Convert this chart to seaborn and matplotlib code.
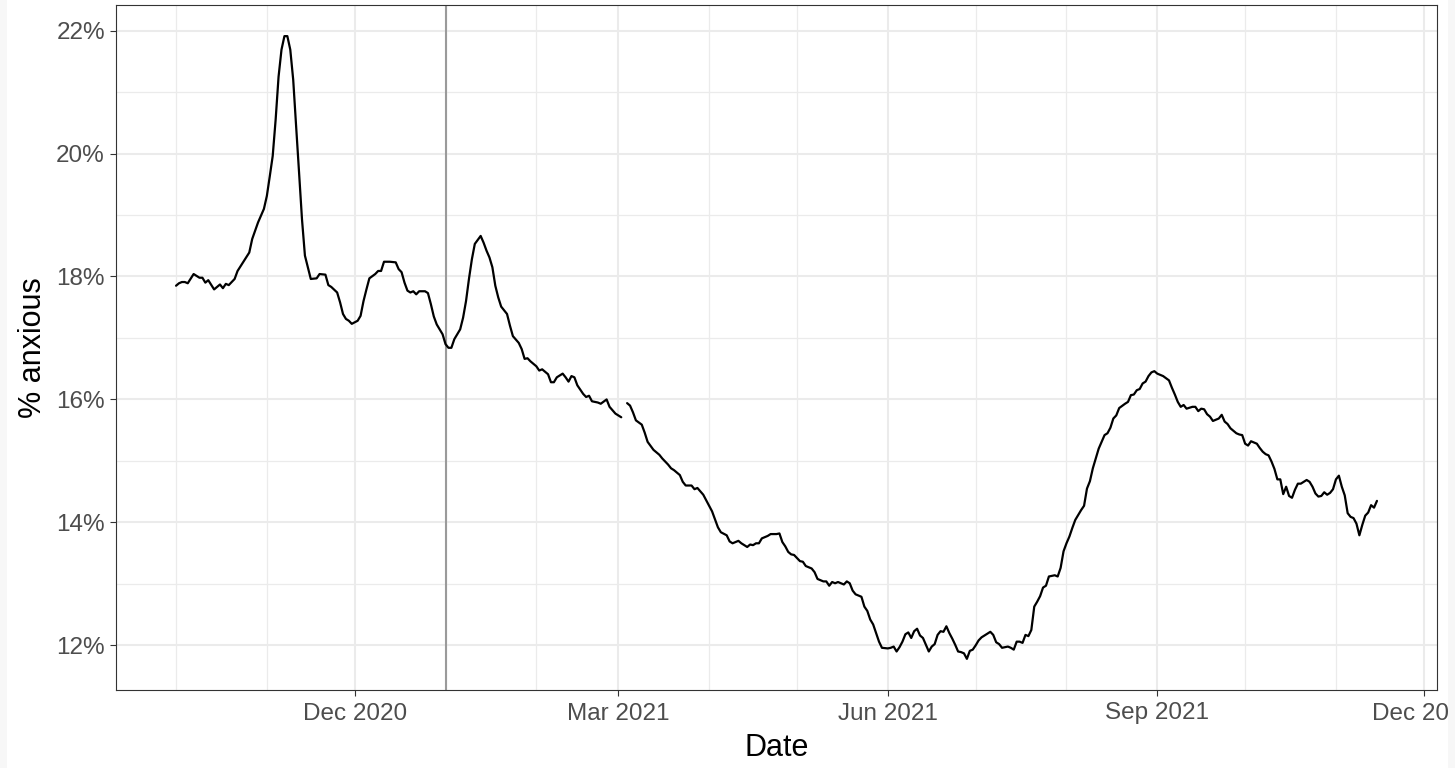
import pandas as pd
import matplotlib
matplotlib.use("Agg")
import matplotlib.pyplot as plt
import matplotlib.dates as mdates
from matplotlib.ticker import MultipleLocator
from matplotlib.patches import Rectangle
import seaborn as sns

# Share of respondents reporting anxiety (%).
# The series has one missing day at the start of March 2021, so it is split in two.
dates_before = [
    "2020-10-01", "2020-10-02", "2020-10-03", "2020-10-04", "2020-10-05", "2020-10-07",
    "2020-10-09", "2020-10-10", "2020-10-11", "2020-10-12", "2020-10-14", "2020-10-16",
    "2020-10-17", "2020-10-18", "2020-10-19", "2020-10-21", "2020-10-22", "2020-10-24",
    "2020-10-26", "2020-10-27", "2020-10-29", "2020-10-31", "2020-11-01", "2020-11-02",
    "2020-11-03", "2020-11-04", "2020-11-05", "2020-11-06", "2020-11-07", "2020-11-08",
    "2020-11-09", "2020-11-10", "2020-11-11", "2020-11-12", "2020-11-13", "2020-11-14",
    "2020-11-16", "2020-11-18", "2020-11-19", "2020-11-21", "2020-11-22", "2020-11-23",
    "2020-11-25", "2020-11-26", "2020-11-27", "2020-11-28", "2020-11-29", "2020-11-30",
    "2020-12-02", "2020-12-03", "2020-12-04", "2020-12-05", "2020-12-06", "2020-12-08",
    "2020-12-09", "2020-12-10", "2020-12-11", "2020-12-13", "2020-12-15", "2020-12-16",
    "2020-12-17", "2020-12-18", "2020-12-19", "2020-12-20", "2020-12-21", "2020-12-22",
    "2020-12-23", "2020-12-25", "2020-12-26", "2020-12-27", "2020-12-28", "2020-12-29",
    "2020-12-31", "2021-01-01", "2021-01-02", "2021-01-03", "2021-01-04", "2021-01-06",
    "2021-01-07", "2021-01-08", "2021-01-09", "2021-01-10", "2021-01-11", "2021-01-13",
    "2021-01-14", "2021-01-15", "2021-01-16", "2021-01-17", "2021-01-18", "2021-01-19",
    "2021-01-20", "2021-01-22", "2021-01-23", "2021-01-24", "2021-01-26", "2021-01-27",
    "2021-01-28", "2021-01-29", "2021-01-30", "2021-02-01", "2021-02-02", "2021-02-03",
    "2021-02-05", "2021-02-06", "2021-02-07", "2021-02-08", "2021-02-10", "2021-02-11",
    "2021-02-12", "2021-02-13", "2021-02-14", "2021-02-15", "2021-02-17", "2021-02-18",
    "2021-02-19", "2021-02-20", "2021-02-22", "2021-02-23", "2021-02-25", "2021-02-26",
    "2021-02-28", "2021-03-02",
]
anxious_before = [
    17.85, 17.89, 17.91, 17.91, 17.89, 18.04,
    17.98, 17.98, 17.90, 17.94, 17.79, 17.87,
    17.81, 17.88, 17.86, 17.96, 18.09, 18.24,
    18.39, 18.61, 18.88, 19.10, 19.31, 19.63,
    19.96, 20.55, 21.25, 21.69, 21.91, 21.91,
    21.69, 21.20, 20.44, 19.69, 18.93, 18.34,
    17.96, 17.97, 18.04, 18.03, 17.86, 17.83,
    17.74, 17.58, 17.39, 17.31, 17.28, 17.23,
    17.28, 17.36, 17.60, 17.79, 17.97, 18.04,
    18.09, 18.09, 18.24, 18.24, 18.23, 18.12,
    18.07, 17.90, 17.77, 17.74, 17.76, 17.71,
    17.76, 17.76, 17.73, 17.55, 17.35, 17.22,
    17.06, 16.90, 16.84, 16.84, 16.98, 17.14,
    17.33, 17.60, 17.96, 18.28, 18.53, 18.66,
    18.55, 18.42, 18.31, 18.15, 17.85, 17.66,
    17.51, 17.39, 17.20, 17.03, 16.92, 16.82,
    16.66, 16.67, 16.62, 16.54, 16.47, 16.49,
    16.41, 16.28, 16.28, 16.36, 16.42, 16.36,
    16.29, 16.38, 16.36, 16.23, 16.09, 16.04,
    16.06, 15.97, 15.95, 15.93, 16.00, 15.88,
    15.77, 15.71,
]

dates_after = [
    "2021-03-04", "2021-03-05", "2021-03-06", "2021-03-07", "2021-03-09", "2021-03-10",
    "2021-03-11", "2021-03-13", "2021-03-15", "2021-03-16", "2021-03-18", "2021-03-19",
    "2021-03-20", "2021-03-22", "2021-03-23", "2021-03-24", "2021-03-26", "2021-03-27",
    "2021-03-28", "2021-03-30", "2021-03-31", "2021-04-01", "2021-04-02", "2021-04-03",
    "2021-04-04", "2021-04-05", "2021-04-07", "2021-04-08", "2021-04-09", "2021-04-11",
    "2021-04-12", "2021-04-14", "2021-04-15", "2021-04-16", "2021-04-17", "2021-04-18",
    "2021-04-19", "2021-04-21", "2021-04-22", "2021-04-24", "2021-04-25", "2021-04-26",
    "2021-04-27", "2021-04-28", "2021-04-29", "2021-04-30", "2021-05-02", "2021-05-03",
    "2021-05-04", "2021-05-06", "2021-05-07", "2021-05-08", "2021-05-10", "2021-05-11",
    "2021-05-12", "2021-05-13", "2021-05-14", "2021-05-15", "2021-05-17", "2021-05-18",
    "2021-05-19", "2021-05-20", "2021-05-21", "2021-05-23", "2021-05-24", "2021-05-25",
    "2021-05-26", "2021-05-27", "2021-05-28", "2021-05-29", "2021-05-30", "2021-06-01",
    "2021-06-02", "2021-06-03", "2021-06-04", "2021-06-05", "2021-06-06", "2021-06-07",
    "2021-06-08", "2021-06-09", "2021-06-10", "2021-06-11", "2021-06-12", "2021-06-13",
    "2021-06-14", "2021-06-15", "2021-06-16", "2021-06-17", "2021-06-18", "2021-06-19",
    "2021-06-20", "2021-06-21", "2021-06-22", "2021-06-23", "2021-06-24", "2021-06-25",
    "2021-06-26", "2021-06-27", "2021-06-28", "2021-06-29", "2021-06-30", "2021-07-01",
    "2021-07-02", "2021-07-03", "2021-07-04", "2021-07-06", "2021-07-07", "2021-07-08",
    "2021-07-09", "2021-07-10", "2021-07-12", "2021-07-13", "2021-07-14", "2021-07-15",
    "2021-07-16", "2021-07-17", "2021-07-18", "2021-07-19", "2021-07-20", "2021-07-21",
    "2021-07-22", "2021-07-23", "2021-07-24", "2021-07-25", "2021-07-26", "2021-07-28",
    "2021-07-29", "2021-07-30", "2021-07-31", "2021-08-01", "2021-08-02", "2021-08-03",
    "2021-08-04", "2021-08-06", "2021-08-07", "2021-08-08", "2021-08-09", "2021-08-10",
    "2021-08-11", "2021-08-12", "2021-08-14", "2021-08-15", "2021-08-16", "2021-08-17",
    "2021-08-18", "2021-08-19", "2021-08-21", "2021-08-22", "2021-08-23", "2021-08-24",
    "2021-08-25", "2021-08-26", "2021-08-27", "2021-08-28", "2021-08-29", "2021-08-30",
    "2021-08-31", "2021-09-01", "2021-09-03", "2021-09-05", "2021-09-06", "2021-09-07",
    "2021-09-08", "2021-09-09", "2021-09-10", "2021-09-11", "2021-09-13", "2021-09-14",
    "2021-09-15", "2021-09-16", "2021-09-17", "2021-09-18", "2021-09-19", "2021-09-20",
    "2021-09-22", "2021-09-23", "2021-09-24", "2021-09-25", "2021-09-26", "2021-09-28",
    "2021-09-29", "2021-09-30", "2021-10-01", "2021-10-02", "2021-10-03", "2021-10-05",
    "2021-10-06", "2021-10-07", "2021-10-08", "2021-10-09", "2021-10-10", "2021-10-11",
    "2021-10-12", "2021-10-13", "2021-10-14", "2021-10-15", "2021-10-16", "2021-10-17",
    "2021-10-18", "2021-10-19", "2021-10-20", "2021-10-22", "2021-10-23", "2021-10-24",
    "2021-10-25", "2021-10-26", "2021-10-27", "2021-10-28", "2021-10-29", "2021-10-30",
    "2021-10-31", "2021-11-01", "2021-11-02", "2021-11-03", "2021-11-04", "2021-11-05",
    "2021-11-06", "2021-11-07", "2021-11-08", "2021-11-09", "2021-11-10", "2021-11-11",
    "2021-11-12", "2021-11-13", "2021-11-14", "2021-11-15",
]
anxious_after = [
    15.94, 15.90, 15.79, 15.66, 15.59, 15.46,
    15.31, 15.18, 15.10, 15.04, 14.94, 14.88,
    14.85, 14.77, 14.66, 14.60, 14.60, 14.54,
    14.56, 14.45, 14.36, 14.27, 14.18, 14.05,
    13.92, 13.84, 13.79, 13.69, 13.66, 13.70,
    13.66, 13.60, 13.64, 13.63, 13.66, 13.66,
    13.74, 13.78, 13.81, 13.81, 13.82, 13.68,
    13.61, 13.52, 13.48, 13.47, 13.37, 13.36,
    13.29, 13.25, 13.19, 13.08, 13.04, 13.04,
    12.97, 13.03, 13.01, 13.03, 12.99, 13.04,
    13.01, 12.89, 12.83, 12.79, 12.63, 12.56,
    12.42, 12.34, 12.20, 12.06, 11.96, 11.95,
    11.96, 11.98, 11.90, 11.97, 12.06, 12.18,
    12.21, 12.12, 12.23, 12.27, 12.16, 12.12,
    12.01, 11.90, 11.98, 12.02, 12.17, 12.23,
    12.22, 12.31, 12.20, 12.11, 12.01, 11.90,
    11.89, 11.87, 11.78, 11.91, 11.93, 12.00,
    12.08, 12.13, 12.16, 12.22, 12.17, 12.05,
    12.02, 11.96, 11.98, 11.96, 11.93, 12.06,
    12.06, 12.04, 12.17, 12.15, 12.25, 12.63,
    12.71, 12.80, 12.94, 12.97, 13.12, 13.14,
    13.12, 13.26, 13.53, 13.66, 13.77, 13.91,
    14.04, 14.20, 14.27, 14.55, 14.67, 14.88,
    15.04, 15.20, 15.42, 15.45, 15.54, 15.69,
    15.74, 15.86, 15.93, 15.96, 16.07, 16.08,
    16.15, 16.17, 16.26, 16.29, 16.38, 16.44,
    16.46, 16.42, 16.38, 16.31, 16.19, 16.08,
    15.96, 15.88, 15.91, 15.85, 15.88, 15.88,
    15.81, 15.85, 15.84, 15.76, 15.72, 15.65,
    15.69, 15.75, 15.64, 15.60, 15.53, 15.45,
    15.43, 15.42, 15.28, 15.25, 15.32, 15.28,
    15.21, 15.15, 15.11, 15.09, 14.99, 14.87,
    14.70, 14.70, 14.46, 14.58, 14.43, 14.40,
    14.53, 14.63, 14.63, 14.69, 14.66, 14.58,
    14.47, 14.42, 14.43, 14.49, 14.45, 14.48,
    14.54, 14.70, 14.76, 14.58, 14.44, 14.15,
    14.09, 14.07, 13.98, 13.79, 13.96, 14.11,
    14.16, 14.28, 14.24, 14.35,
]

event_date = "2021-01-01"

x_breaks = ["2020-12-01", "2021-03-01", "2021-06-01", "2021-09-01", "2021-12-01"]
x_labels = ["Dec 2020", "Mar 2021", "Jun 2021", "Sep 2021", "Dec 2021"]
y_breaks = [12, 14, 16, 18, 20, 22]
y_labels = ["12%", "14%", "16%", "18%", "20%", "22%"]

df = pd.concat([
    pd.DataFrame({"date": pd.to_datetime(dates_before), "anxious": anxious_before, "segment": 0}),
    pd.DataFrame({"date": pd.to_datetime(dates_after), "anxious": anxious_after, "segment": 1}),
], ignore_index=True)

sns.set_theme(style="white")
plt.rcParams["font.family"] = ["Liberation Sans", "DejaVu Sans"]

fig = plt.figure(figsize=(14.55, 7.68), dpi=100)
ax = fig.add_axes([116 / 1455, 78 / 768, 1321 / 1455, 685 / 768])

# grid first so that it sits under everything
ax.set_axisbelow(True)
ax.axvline(pd.Timestamp(event_date), color="#9a9a9a", linewidth=1.5, zorder=1.5)

sns.lineplot(data=df, x="date", y="anxious", units="segment", estimator=None,
             color="black", linewidth=1.6, ax=ax, zorder=3)

# ggplot-like 5% expansion
start, end = df["date"].min(), df["date"].max()
pad = (end - start) * 0.05
ax.set_xlim(start - pad, end + pad)
lo, hi = df["anxious"].min(), df["anxious"].max()
ax.set_ylim(lo - 0.05 * (hi - lo), hi + 0.05 * (hi - lo))

ax.set_xticks(pd.to_datetime(x_breaks))
ax.set_xticklabels(x_labels)
ax.xaxis.set_minor_locator(mdates.MonthLocator())
ax.set_yticks(y_breaks)
ax.set_yticklabels(y_labels)
ax.yaxis.set_minor_locator(MultipleLocator(1))

ax.grid(which="major", color="#EBEBEB", linewidth=1.5)
ax.grid(which="minor", color="#EBEBEB", linewidth=0.9)

ax.tick_params(which="major", length=4, width=0.8, color="#333333",
               labelsize=17.5, labelcolor="#4D4D4D")
ax.tick_params(axis="x", which="major", pad=5)
ax.tick_params(axis="y", which="major", pad=4)
ax.tick_params(which="minor", length=0)
ax.xaxis.set_ticks_position("bottom")
ax.yaxis.set_ticks_position("left")

for s in ax.spines.values():
    s.set_color("#333333")
    s.set_linewidth(0.8)

ax.set_xlabel("Date", fontsize=22, color="black", labelpad=6)
ax.set_ylabel("% anxious", fontsize=22, color="black", labelpad=6)

# light strips at the screenshot edges
fig.patches.append(Rectangle((0, 0), 7 / 1455, 1, transform=fig.transFigure,
                             facecolor="#F7F7F7", edgecolor="none", zorder=5))
fig.patches.append(Rectangle((1448 / 1455, 0), 7 / 1455, 1, transform=fig.transFigure,
                             facecolor="#F7F7F7", edgecolor="none", zorder=5))

fig.savefig("out.png", dpi=100)
